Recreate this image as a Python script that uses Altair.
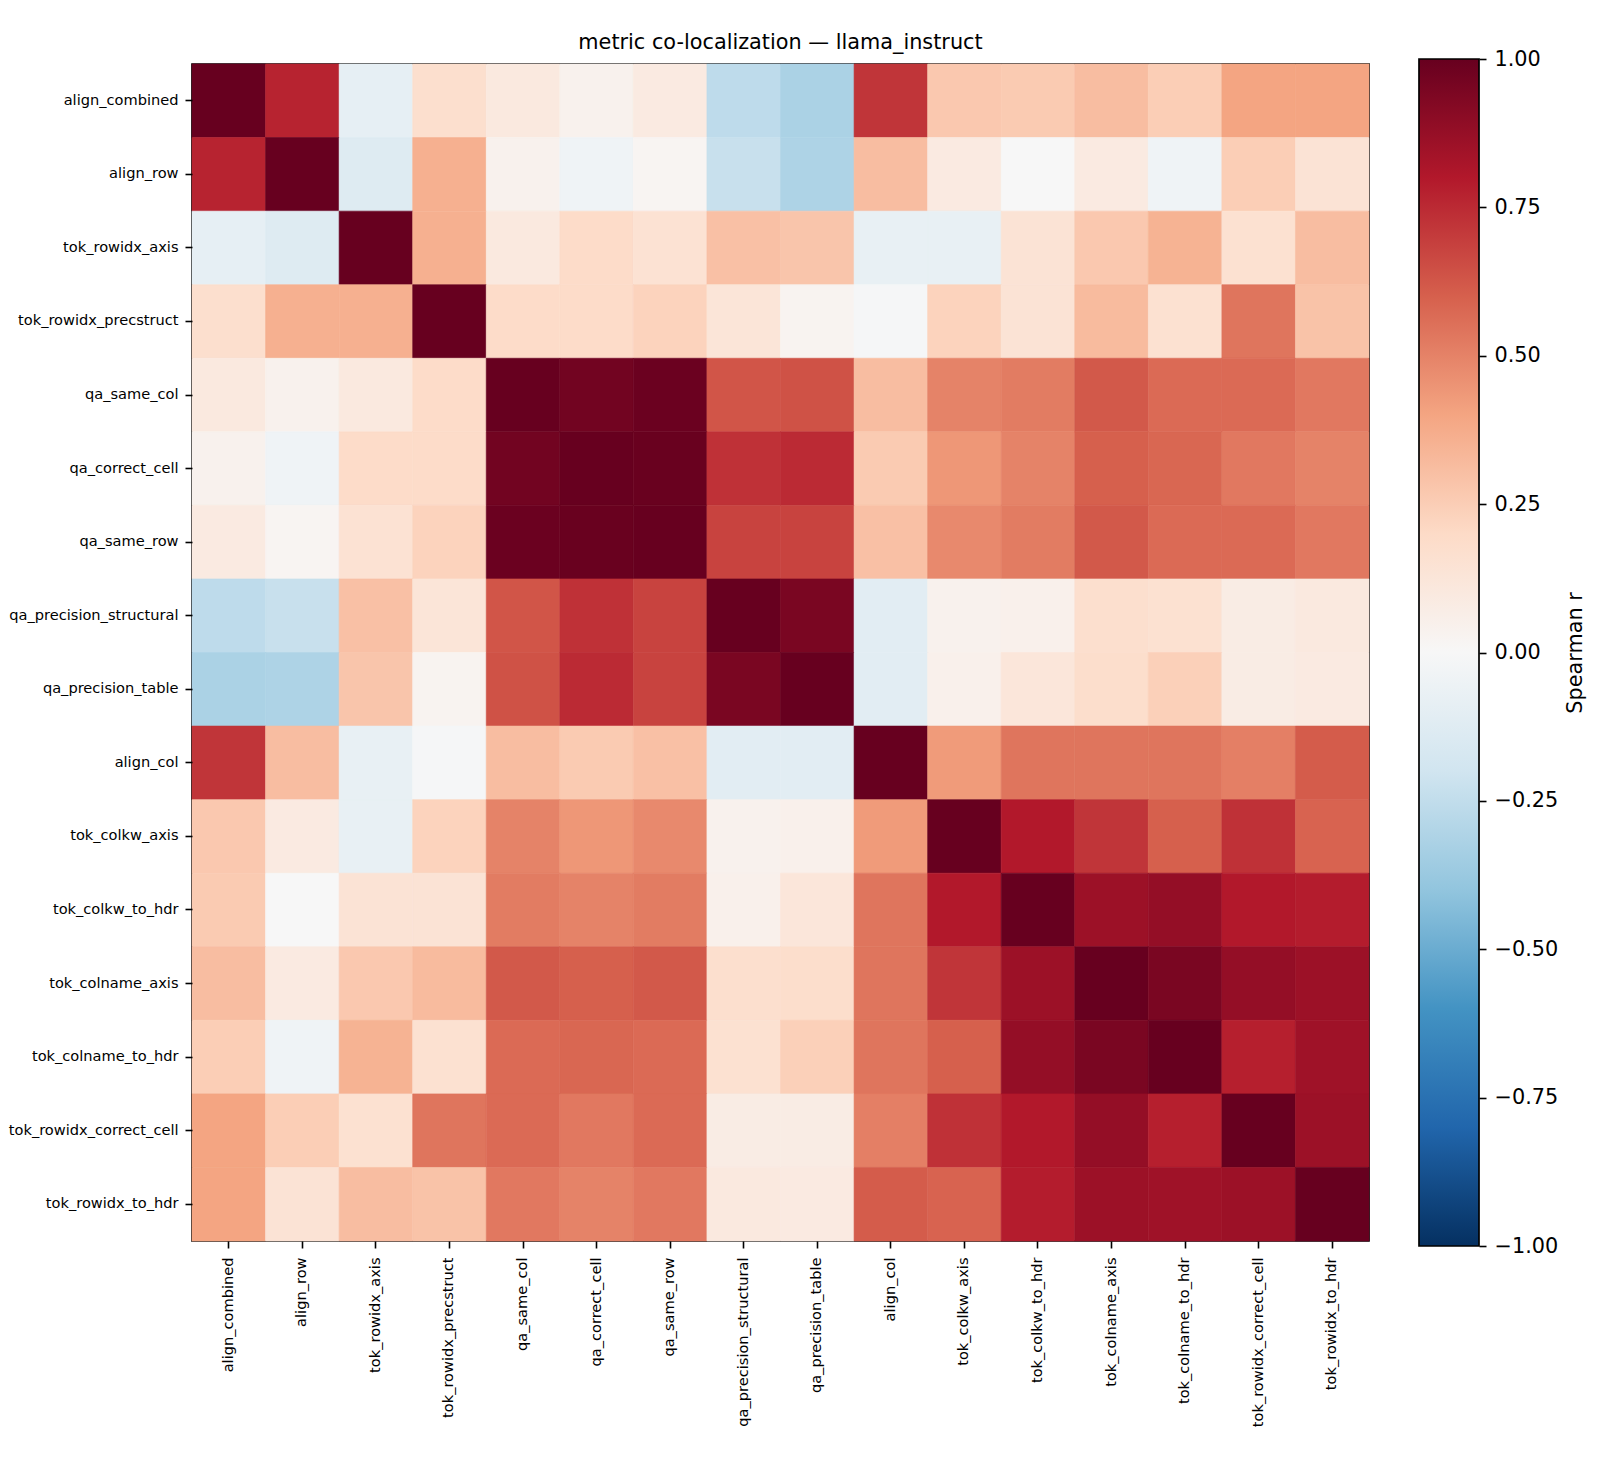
import altair as alt
import pandas as pd

FONT = "DejaVu Sans"

metrics = [
    "align_combined", "align_row", "tok_rowidx_axis", "tok_rowidx_precstruct",
    "qa_same_col", "qa_correct_cell", "qa_same_row", "qa_precision_structural",
    "qa_precision_table", "align_col", "tok_colkw_axis", "tok_colkw_to_hdr",
    "tok_colname_axis", "tok_colname_to_hdr", "tok_rowidx_correct_cell", "tok_rowidx_to_hdr",
]

# Spearman r of each metric against every metric, one row per metric (column order = metrics)
r_align_combined          = [1.00, 0.77, -0.09, 0.17, 0.10, 0.04, 0.09, -0.26, -0.32, 0.72, 0.27, 0.26, 0.31, 0.25, 0.40, 0.40]
r_align_row               = [0.77, 1.00, -0.13, 0.36, 0.04, -0.04, 0.02, -0.23, -0.31, 0.31, 0.09, 0.00, 0.09, -0.04, 0.25, 0.14]
r_tok_rowidx_axis         = [-0.09, -0.13, 1.00, 0.36, 0.10, 0.19, 0.15, 0.30, 0.28, -0.08, -0.08, 0.14, 0.27, 0.35, 0.16, 0.31]
r_tok_rowidx_precstruct   = [0.17, 0.36, 0.36, 1.00, 0.19, 0.19, 0.23, 0.13, 0.03, -0.01, 0.23, 0.14, 0.32, 0.16, 0.54, 0.29]
r_qa_same_col             = [0.10, 0.04, 0.10, 0.19, 1.00, 0.97, 0.99, 0.63, 0.64, 0.31, 0.50, 0.52, 0.62, 0.57, 0.57, 0.53]
r_qa_correct_cell         = [0.04, -0.04, 0.19, 0.19, 0.97, 1.00, 0.995, 0.73, 0.75, 0.26, 0.44, 0.50, 0.60, 0.58, 0.53, 0.50]
r_qa_same_row             = [0.09, 0.02, 0.15, 0.23, 0.99, 0.995, 1.00, 0.68, 0.68, 0.30, 0.48, 0.52, 0.62, 0.57, 0.57, 0.53]
r_qa_precision_structural = [-0.26, -0.23, 0.30, 0.13, 0.63, 0.73, 0.68, 1.00, 0.95, -0.11, 0.04, 0.05, 0.17, 0.16, 0.08, 0.10]
r_qa_precision_table      = [-0.32, -0.31, 0.28, 0.03, 0.64, 0.75, 0.68, 0.95, 1.00, -0.11, 0.05, 0.12, 0.18, 0.24, 0.08, 0.09]
r_align_col               = [0.72, 0.31, -0.08, -0.01, 0.31, 0.26, 0.30, -0.11, -0.11, 1.00, 0.43, 0.54, 0.54, 0.54, 0.51, 0.61]
r_tok_colkw_axis          = [0.27, 0.09, -0.08, 0.23, 0.50, 0.44, 0.48, 0.04, 0.05, 0.43, 1.00, 0.80, 0.72, 0.60, 0.73, 0.59]
r_tok_colkw_to_hdr        = [0.26, 0.00, 0.14, 0.14, 0.52, 0.50, 0.52, 0.05, 0.12, 0.54, 0.80, 1.00, 0.86, 0.88, 0.80, 0.79]
r_tok_colname_axis        = [0.31, 0.09, 0.27, 0.32, 0.62, 0.60, 0.62, 0.17, 0.18, 0.54, 0.72, 0.86, 1.00, 0.95, 0.88, 0.86]
r_tok_colname_to_hdr      = [0.25, -0.04, 0.35, 0.16, 0.57, 0.58, 0.57, 0.16, 0.24, 0.54, 0.60, 0.88, 0.95, 1.00, 0.78, 0.85]
r_tok_rowidx_correct_cell = [0.40, 0.25, 0.16, 0.54, 0.57, 0.53, 0.57, 0.08, 0.08, 0.51, 0.73, 0.80, 0.88, 0.78, 1.00, 0.86]
r_tok_rowidx_to_hdr       = [0.40, 0.14, 0.31, 0.29, 0.53, 0.50, 0.53, 0.10, 0.09, 0.61, 0.59, 0.79, 0.86, 0.85, 0.86, 1.00]

matrix_rows = [
    r_align_combined, r_align_row, r_tok_rowidx_axis, r_tok_rowidx_precstruct,
    r_qa_same_col, r_qa_correct_cell, r_qa_same_row, r_qa_precision_structural,
    r_qa_precision_table, r_align_col, r_tok_colkw_axis, r_tok_colkw_to_hdr,
    r_tok_colname_axis, r_tok_colname_to_hdr, r_tok_rowidx_correct_cell, r_tok_rowidx_to_hdr,
]

colorbar_ticks = [-1.0, -0.75, -0.5, -0.25, 0.0, 0.25, 0.5, 0.75, 1.0]

# diverging RdBu palette, blue (-1) to red (+1)
rdbu = ["#053061", "#2166ac", "#4393c3", "#92c5de", "#d1e5f0", "#f7f7f7",
        "#fddbc7", "#f4a582", "#d6604d", "#b2182b", "#67001f"]
rdbu_domain = [-1.0, -0.8, -0.6, -0.4, -0.2, 0.0, 0.2, 0.4, 0.6, 0.8, 1.0]

cells = pd.DataFrame(
    [{"row": metrics[i], "col": metrics[j], "r": matrix_rows[i][j]}
     for i in range(len(metrics)) for j in range(len(metrics))]
)

def corr_scale():
    return alt.Scale(domain=rdbu_domain, range=rdbu, interpolate="rgb")

tick_axis = dict(
    labelFont=FONT, labelFontSize=14.6, labelColor="black", labelLimit=400,
    tickSize=7, tickWidth=1.6, tickColor="black", domain=False, grid=False,
)

PLOT = 1177

heat = alt.Chart(cells).mark_rect(strokeWidth=0.6).encode(
    x=alt.X("col:N", sort=metrics, title=None,
            scale=alt.Scale(paddingInner=0, paddingOuter=0),
            axis=alt.Axis(labelAngle=270, labelPadding=9, **tick_axis)),
    y=alt.Y("row:N", sort=metrics, title=None,
            scale=alt.Scale(paddingInner=0, paddingOuter=0),
            axis=alt.Axis(labelPadding=7, minExtent=186, maxExtent=186, **tick_axis)),
    color=alt.Color("r:Q", scale=corr_scale(), legend=None),
    stroke=alt.Stroke("r:Q", scale=corr_scale(), legend=None),
).properties(
    width=PLOT, height=PLOT,
    view=alt.ViewBackground(stroke="black", strokeWidth=1.7),
    title=alt.TitleParams("metric co-localization — llama_instruct", font=FONT,
                          fontSize=20.8, fontWeight="normal", color="black", offset=10),
)

# colour bar: one rect spanning the full r range, filled with the same palette;
# it reaches a few pixels beyond the heatmap at both ends
bar = pd.DataFrame({"x0": [0.0], "x1": [1.0], "lo": [-1.0], "hi": [1.0]})
gradient = alt.LinearGradient(
    gradient="linear",
    stops=[alt.GradientStop(color=c, offset=(v + 1) / 2) for c, v in zip(rdbu, rdbu_domain)],
    x1=0, x2=0, y1=1, y2=0,
)
cbar = alt.Chart(bar).mark_rect(fill=gradient, stroke="black", strokeWidth=1.7).encode(
    x=alt.X("x0:Q", scale=alt.Scale(domain=[0, 1], nice=False), axis=None),
    x2="x1:Q",
    y=alt.Y("lo:Q", scale=alt.Scale(domain=[-1, 1], nice=False, range=[PLOT + 5, -5]),
            axis=alt.Axis(orient="right", values=colorbar_ticks, format=".2f",
                          title="Spearman r", titleFont=FONT, titleFontSize=20.8,
                          titleFontWeight="normal", titleColor="black", titleAngle=270,
                          titlePadding=28, labelFont=FONT, labelFontSize=20.8,
                          labelColor="black", labelPadding=8, tickSize=7, tickWidth=1.6,
                          tickColor="black", domain=False, grid=False)),
    y2="hi:Q",
).properties(
    width=60, height=PLOT,
    view=alt.ViewBackground(stroke="transparent"),
)

chart = alt.hconcat(heat, cbar, spacing=46).properties(
    padding={"left": 5, "top": 31, "right": 5, "bottom": 5}
)

chart.save("out.html", embed_options={"renderer": "svg", "actions": False})
